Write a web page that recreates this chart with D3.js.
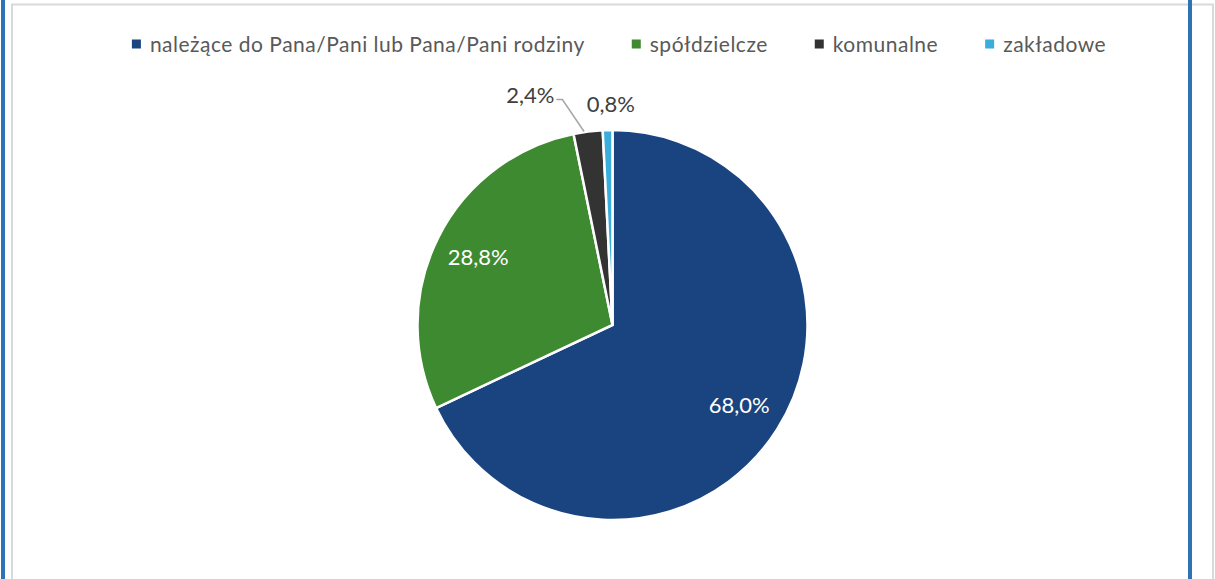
<!DOCTYPE html>
<html>
<head>
<meta charset="utf-8">
<script src="https://cdn.jsdelivr.net/npm/d3@7"></script>
<style>
  html, body { margin: 0; padding: 0; background: #fff; }
  svg { display: block; font-family: Lato, "Open Sans", sans-serif; }
</style>
</head>
<body>
<div id="chart"></div>
<script>
// data
var CATEGORIES = ['należące do Pana/Pani lub Pana/Pani rodziny', 'spółdzielcze', 'komunalne', 'zakładowe'];
var VALUES = [68.0, 28.8, 2.4, 0.8];
var LABELS = ['68,0%', '28,8%', '2,4%', '0,8%'];
var COLORS = ['#1a4480', '#3e8a31', '#333333', '#3aaddc'];

var WIDTH = 1215, HEIGHT = 579;
var CX = 612.5, CY = 325, R = 195;

var svg = d3.select('#chart').append('svg')
  .attr('width', WIDTH)
  .attr('height', HEIGHT);

// frame: gray chart border + blue page margins
svg.append('rect')
  .attr('x', 12).attr('y', 4.5)
  .attr('width', 1201).attr('height', 600)
  .attr('fill', 'none')
  .attr('stroke', '#d9d9d9')
  .attr('stroke-width', 2);

svg.append('rect').attr('x', 1).attr('y', 0).attr('width', 4).attr('height', HEIGHT).attr('fill', '#2e74b5');
svg.append('rect').attr('x', 1188).attr('y', 0).attr('width', 4).attr('height', HEIGHT).attr('fill', '#2e74b5');

// legend
var legend = svg.append('g');
var xPos = 0;
CATEGORIES.forEach(function (c, i) {
  var item = legend.append('g').attr('transform', 'translate(' + xPos + ',0)');
  item.append('rect')
    .attr('x', 0).attr('y', -4.5)
    .attr('width', 9).attr('height', 9)
    .attr('fill', COLORS[i]);
  var t = item.append('text')
    .attr('x', 18).attr('y', 7.5)
    .attr('fill', '#595959')
    .style('font-size', '21px')
    .style('letter-spacing', '0.5px')
    .text(c);
  xPos += 18 + t.node().getComputedTextLength() + 47;
});
var legendW = xPos - 47;
legend.attr('transform', 'translate(' + (619 - legendW / 2) + ',44)');

// pie
var pie = d3.pie().sort(null).value(function (d) { return d; });
var arcs = pie(VALUES);
var arc = d3.arc().innerRadius(0).outerRadius(R);
var labelArc = d3.arc().innerRadius(R * 0.77).outerRadius(R * 0.77);

var g = svg.append('g').attr('transform', 'translate(' + CX + ',' + CY + ')');

g.selectAll('path.slice')
  .data(arcs)
  .enter().append('path')
  .attr('class', 'slice')
  .attr('d', arc)
  .attr('fill', function (d, i) { return COLORS[i]; })
  .attr('stroke', '#fff')
  .attr('stroke-width', 2.5)
  .attr('stroke-linejoin', 'miter');

// labels inside the big slices
arcs.forEach(function (d, i) {
  if (d.value < 5) return;
  var c = labelArc.centroid(d);
  g.append('text')
    .attr('x', c[0]).attr('y', c[1])
    .attr('text-anchor', 'middle')
    .attr('dy', '0.35em')
    .attr('fill', '#fff')
    .style('font-size', '22px')
    .text(LABELS[i]);
});

// small slices: labels outside
var edgeArc = d3.arc().innerRadius(R).outerRadius(R);
var outArc = d3.arc().innerRadius(R * 1.15).outerRadius(R * 1.15);

// komunalne: leader line to the left
var dk = arcs[2];
var p1 = edgeArc.centroid(dk);
var p2 = outArc.centroid(dk);
p2 = [p2[0] - 22, p2[1] - 3];
g.append('polyline')
  .attr('points', [[p1[0] - 4, p1[1]], p2, [p2[0] - 6, p2[1]]].map(function (p) { return p.join(','); }).join(' '))
  .attr('fill', 'none')
  .attr('stroke', '#a6a6a6')
  .attr('stroke-width', 1.5);
g.append('text')
  .attr('x', p2[0] - 8).attr('y', p2[1] - 4)
  .attr('text-anchor', 'end')
  .attr('dy', '0.35em')
  .attr('fill', '#404040')
  .style('font-size', '22px')
  .text(LABELS[2]);

// zakładowe
var dz = arcs[3];
var pz = outArc.centroid(dz);
g.append('text')
  .attr('x', pz[0] + 4).attr('y', pz[1] + 3)
  .attr('text-anchor', 'middle')
  .attr('dy', '0.35em')
  .attr('fill', '#404040')
  .style('font-size', '22px')
  .text(LABELS[3]);
</script>
</body>
</html>
